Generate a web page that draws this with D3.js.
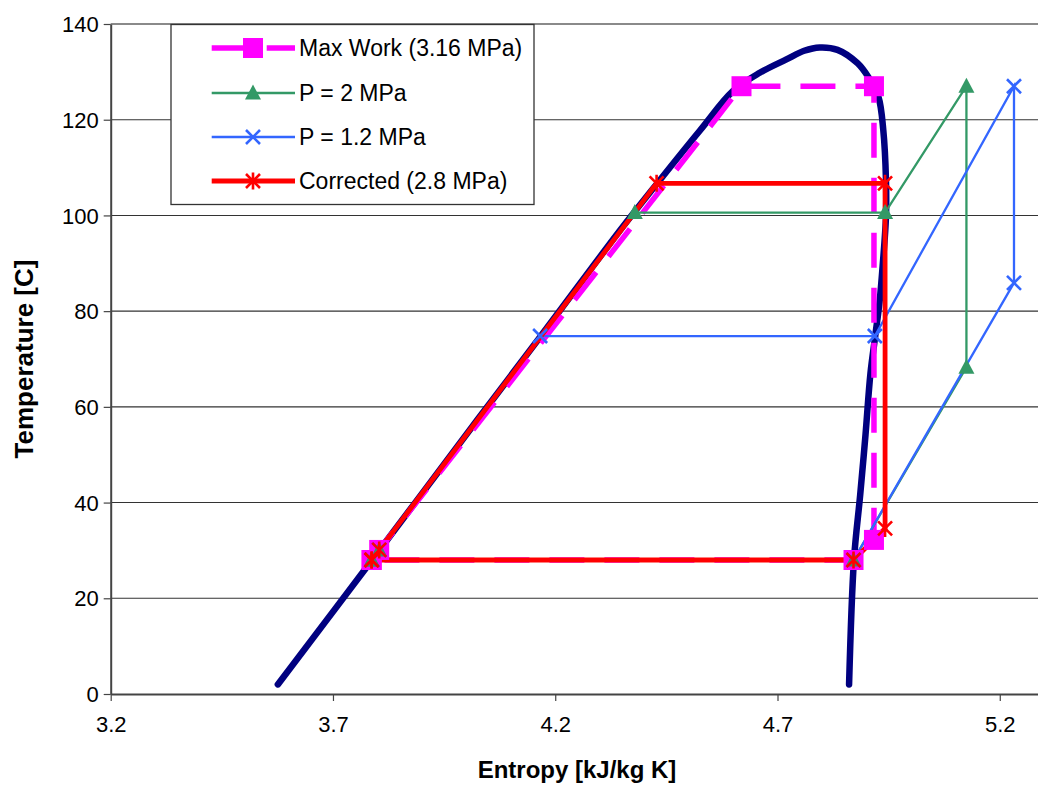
<!DOCTYPE html>
<html>
<head>
<meta charset="utf-8">
<script src="https://cdn.jsdelivr.net/npm/d3@7"></script>
<style>
  html, body { margin: 0; padding: 0; background: #fff; }
  svg text { font-family: "Liberation Sans", Arial, sans-serif; fill: #000; }
</style>
</head>
<body>
<svg id="chart" width="1038" height="785"></svg>
<script>
// ---------------- DATA ----------------
const xTicks = [3.2, 3.7, 4.2, 4.7, 5.2];
const yTicks = [0, 20, 40, 60, 80, 100, 120, 140];

// Saturation dome (entropy, temperature)
const domeS = [3.576, 3.788, 4.025, 4.166, 4.346, 4.432, 4.526, 4.600, 4.660, 4.720, 4.760, 4.795, 4.835, 4.880, 4.905, 4.927, 4.938, 4.944, 4.944, 4.937, 4.930, 4.920, 4.909, 4.898, 4.886, 4.872, 4.861];
const domeT = [2, 28, 57.3, 74.6, 96.9, 107, 117.8, 126, 129.8, 132.6, 134.4, 135.1, 134.6, 131.8, 128.8, 124.8, 117.8, 107.4, 99.7, 90, 82.3, 74.9, 66.9, 54.2, 41.6, 28, 2];

const seriesNames = ["Max Work (3.16 MPa)", "P = 2 MPa", "P = 1.2 MPa", "Corrected (2.8 MPa)"];

const maxWorkS = [3.787, 3.804, 4.619, 4.917, 4.917, 4.871, 3.787];
const maxWorkT = [28, 30.1, 127, 127, 32.2, 28, 28];

const p2S = [3.787, 3.804, 4.379, 4.942, 5.125, 5.125, 4.871, 3.787];
const p2T = [28, 30.1, 100.6, 100.6, 127, 68.3, 28, 28];

const p12S = [3.787, 3.804, 4.166, 4.919, 5.232, 5.232, 4.871, 3.787];
const p12T = [28, 30.1, 74.8, 74.8, 127, 85.9, 28, 28];

const corrS = [3.787, 3.804, 4.428, 4.942, 4.942, 4.871, 3.787];
const corrT = [28, 30.1, 106.7, 106.7, 34.6, 28, 28];

// ---------------- CHART ----------------
(function () {
const svg = d3.select("#chart");
const pL = 110.7, pR = 1038, pT = 24, pB = 694;
const x = d3.scaleLinear().domain([3.2, 5.286]).range([pL, pR]);
const y = d3.scaleLinear().domain([0, 140]).range([pB, pT]);

const zip = (a, b) => a.map((v, i) => [v, b[i]]);

// gridlines
svg.append("g").selectAll("line").data(yTicks.filter(t => t > 0 && t < 140)).join("line")
  .attr("x1", pL).attr("x2", pR)
  .attr("y1", d => y(d)).attr("y2", d => y(d))
  .attr("stroke", "#333").attr("stroke-width", 1.1);
// top border
svg.append("line").attr("x1", pL).attr("x2", pR).attr("y1", y(140)).attr("y2", y(140))
  .attr("stroke", "#8a8a8a").attr("stroke-width", 2.2);

// axes
const xAxis = svg.append("g").attr("transform", `translate(0,${pB})`)
  .call(d3.axisBottom(x).tickValues(xTicks).tickSize(7).tickSizeOuter(0).tickFormat(d3.format(".1f")));
const yAxis = svg.append("g").attr("transform", `translate(${pL},0)`)
  .call(d3.axisLeft(y).tickValues(yTicks).tickSize(7).tickSizeOuter(0).tickFormat(d3.format("d")));
[xAxis, yAxis].forEach(g => {
  g.select(".domain").attr("stroke", "#444").attr("stroke-width", 2);
  g.selectAll(".tick line").attr("stroke", "#444").attr("stroke-width", 1.2);
  g.selectAll("text").style("font-size", "22px").attr("fill", "#000")
   .style("font-family", '"Liberation Sans", Arial, sans-serif');
});
xAxis.selectAll("text").attr("y", 22).attr("dy", "0.71em");
yAxis.selectAll("text").attr("x", -12).attr("dy", "0.35em");

// axis titles
svg.append("text").attr("x", 577).attr("y", 778).attr("text-anchor", "middle")
  .style("font-size", "24px").style("font-weight", "bold").text("Entropy [kJ/kg K]");
svg.append("text").attr("transform", "translate(33,359) rotate(-90)").attr("text-anchor", "middle")
  .style("font-size", "26px").style("font-weight", "bold").text("Temperature [C]");

const line = d3.line().x(d => x(d[0])).y(d => y(d[1]));
const curve = d3.line().x(d => x(d[0])).y(d => y(d[1])).curve(d3.curveCatmullRom.alpha(0.5));

// dome
svg.append("path").datum(zip(domeS, domeT)).attr("d", curve)
  .attr("fill", "none").attr("stroke", "#000080").attr("stroke-width", 6.5)
  .attr("stroke-linecap", "round").attr("stroke-linejoin", "round");

const series = [
  { name: seriesNames[0], pts: zip(maxWorkS, maxWorkT), color: "#FF00FF", width: 5.5, dash: "35,20", marker: "square" },
  { name: seriesNames[1], pts: zip(p2S, p2T), color: "#339966", width: 2.3, dash: null, marker: "triangle" },
  { name: seriesNames[2], pts: zip(p12S, p12T), color: "#3366FF", width: 2.3, dash: null, marker: "x" },
  { name: seriesNames[3], pts: zip(corrS, corrT), color: "#FF0000", width: 4.8, dash: null, marker: "star" }
];

series.forEach(s => {
  svg.append("path").datum(s.pts).attr("d", line)
    .attr("fill", "none").attr("stroke", s.color).attr("stroke-width", s.width)
    .attr("stroke-dasharray", s.dash).attr("stroke-linejoin", "miter");
});

function drawMarker(g, type, color, cx, cy) {
  if (type === "square") {
    g.append("rect").attr("x", cx - 10).attr("y", cy - 10).attr("width", 20).attr("height", 20).attr("fill", color);
  } else if (type === "triangle") {
    g.append("path").attr("d", `M${cx},${cy - 8.5}L${cx + 8},${cy + 6.5}L${cx - 8},${cy + 6.5}Z`).attr("fill", color);
  } else if (type === "x") {
    g.append("path").attr("d", `M${cx - 7},${cy - 7}L${cx + 7},${cy + 7}M${cx - 7},${cy + 7}L${cx + 7},${cy - 7}`)
      .attr("stroke", color).attr("stroke-width", 2.6).attr("fill", "none");
  } else if (type === "star") {
    g.append("path").attr("d", `M${cx - 7},${cy - 7}L${cx + 7},${cy + 7}M${cx - 7},${cy + 7}L${cx + 7},${cy - 7}M${cx},${cy - 8.5}L${cx},${cy + 8.5}`)
      .attr("stroke", color).attr("stroke-width", 2.6).attr("fill", "none");
  }
}

series.forEach(s => {
  const g = svg.append("g");
  s.pts.forEach(p => drawMarker(g, s.marker, s.color, x(p[0]), y(p[1])));
});

// legend
const lg = svg.append("g");
lg.append("rect").attr("x", 171).attr("y", 24.5).attr("width", 363).attr("height", 180)
  .attr("fill", "#fff").attr("stroke", "#333").attr("stroke-width", 1.3);
const legY = [48, 93, 137, 181];
series.forEach((s, i) => {
  const yy = legY[i];
  lg.append("line").attr("x1", 211.7).attr("x2", 295).attr("y1", yy).attr("y2", yy)
    .attr("stroke", s.color).attr("stroke-width", s.width).attr("stroke-dasharray", s.dash);
  drawMarker(lg, s.marker, s.color, 253, yy);
  lg.append("text").attr("x", 299).attr("y", yy).attr("dy", "0.35em")
    .style("font-size", "23px").text(s.name);
});
})();
</script>
</body>
</html>
